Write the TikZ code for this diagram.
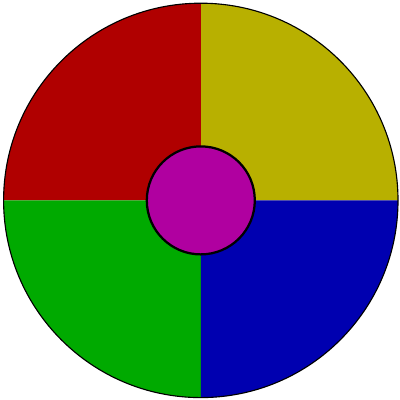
\documentclass[tikz,border=0pt]{standalone}
\usepackage{tikz}
\definecolor{wheelred}{RGB}{176,0,0}
\definecolor{wheelolive}{RGB}{184,176,0}
\definecolor{wheelgreen}{RGB}{0,170,0}
\definecolor{wheelblue}{RGB}{0,0,176}
\definecolor{wheelmagenta}{RGB}{176,0,160}

\begin{document}
\begin{tikzpicture}[
    hub/.style={draw=black, line width=1.6pt, fill=wheelmagenta},
    rim/.style={draw=black, line width=0.8pt}
]
    \useasboundingbox (0,0) rectangle (10,10);
    \coordinate (c) at (5.02,4.99);

    % quadrants
    \foreach \a/\col in {0/wheelolive, 90/wheelred, 180/wheelgreen, 270/wheelblue}
        \fill[\col] (c) -- ++(\a:4.93) arc (\a:\a+90:4.93) -- cycle;

    \draw[rim] (c) circle (4.93);
    \draw[hub] (c) circle (1.35);
\end{tikzpicture}
\end{document}
